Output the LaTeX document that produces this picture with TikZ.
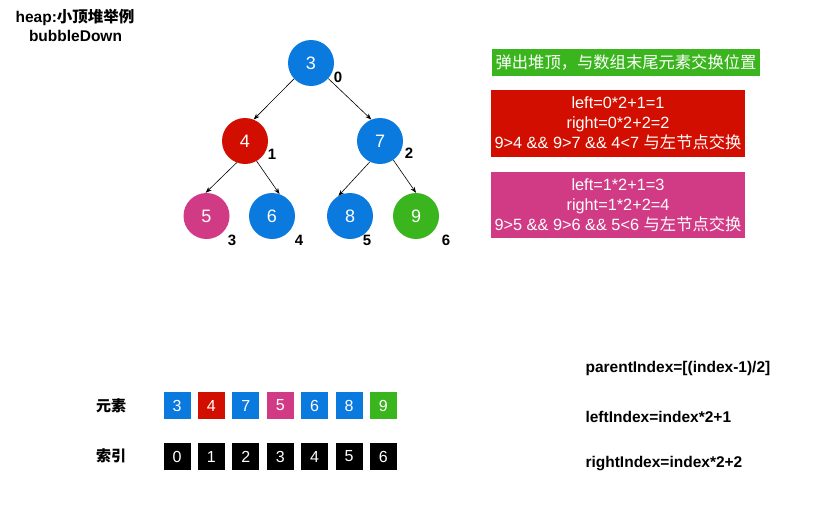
\documentclass[tikz,border=0pt]{standalone}
\usepackage{fontspec}
\setmainfont{Liberation Sans}
\newfontfamily\cjk{Noto Sans CJK SC}
\usetikzlibrary{arrows.meta}
\definecolor{hblue}{RGB}{10,122,223}
\definecolor{hred}{RGB}{210,14,0}
\definecolor{hpink}{RGB}{209,59,133}
\definecolor{hgreen}{RGB}{58,181,30}
\begin{document}
\begin{tikzpicture}[x=1pt,y=-1pt,
  heapnode/.style={circle,minimum size=46pt,inner sep=0pt,text=white,font=\fontsize{18}{18}\selectfont},
  idx/.style={font=\bfseries\fontsize{15}{15}\selectfont},
  edge/.style={-{Stealth[length=6pt,width=4.5pt]},line width=0.6pt,black},
  cell/.style={minimum width=27pt,minimum height=27pt,inner sep=0pt,text=white,font=\fontsize{16}{16}\selectfont},
  infobox/.style={minimum width=254pt,minimum height=67pt,inner sep=0pt,text=white,align=center,font=\fontsize{16.3}{20}\selectfont},
  formula/.style={anchor=west,font=\bfseries\fontsize{15.5}{15.5}\selectfont},
  title/.style={font=\bfseries\fontsize{15.5}{15.5}\selectfont},
  rowlabel/.style={font=\fontsize{15}{15}\selectfont\cjk\bfseries}
]
\useasboundingbox[fill=white] (0,0) rectangle (834,506);

% title
\node[title] (t1) at (75,17) {heap:{\cjk\bfseries 小顶堆举例}};
\node[title] (t2) at (75.5,36) {bubbleDown};

% heap
\node[heapnode,fill=hblue] (n0) at (311,63) {3};
\node[heapnode,fill=hred] (n1) at (245,141) {4};
\node[heapnode,fill=hblue] (n2) at (380,141) {7};
\node[heapnode,fill=hpink] (n3) at (206.5,216) {5};
\node[heapnode,fill=hblue] (n4) at (272,216) {6};
\node[heapnode,fill=hblue] (n5) at (350,216) {8};
\node[heapnode,fill=hgreen] (n6) at (416,216) {9};

\node[idx] (i0) at (338,77) {0};
\node[idx] (i1) at (272,154) {1};
\node[idx] (i2) at (409,153) {2};
\node[idx] (i3) at (232,240) {3};
\node[idx] (i4) at (299,240) {4};
\node[idx] (i5) at (367,240) {5};
\node[idx] (i6) at (446,240) {6};

\draw[edge] (n0.223) -- (n1.68);
\draw[edge] (n0.318) -- (n2.112);
\draw[edge] (n1.249) -- (n3.92);
\draw[edge] (n1.300) -- (n4.71);
\draw[edge] (n2.244) -- (n5.120);
\draw[edge] (n2.305) -- (n6.90);

% right panel
\node[fill=hgreen,minimum width=268pt,minimum height=27pt,inner sep=0pt,text=white,font=\fontsize{16.3}{16.3}\selectfont\cjk] (g) at (626,62.5) {弹出堆顶，与数组末尾元素交换位置};
\node[infobox,fill=hred] (r) at (618,123.5) {left=0*2+1=1\\right=0*2+2=2\\9>4 \&\& 9>7 \&\& 4<7 {\cjk 与左节点交换}};
\node[infobox,fill=hpink,minimum height=66pt] (m) at (618,205) {left=1*2+1=3\\right=1*2+2=4\\9>5 \&\& 9>6 \&\& 5<6 {\cjk 与左节点交换}};

% arrays
\node[rowlabel] (l1) at (111,406) {元素};
\node[rowlabel] (l2) at (111,456) {索引};

\foreach \v/\c [count=\i from 0] in {3/hblue,4/hred,7/hblue,5/hpink,6/hblue,8/hblue,9/hgreen}{
  \node[cell,fill=\c] (e\i) at (177+34.4*\i,405.5) {\v};
  \node[cell,fill=black] (x\i) at (177+34.4*\i,456.5) {\i};
}

% formulas
\node[formula] (f1) at (582,368) {parentIndex=[(index-1)/2]};
\node[formula] (f2) at (582,417) {leftIndex=index*2+1};
\node[formula] (f3) at (582,464) {rightIndex=index*2+2};
\end{tikzpicture}
\end{document}
